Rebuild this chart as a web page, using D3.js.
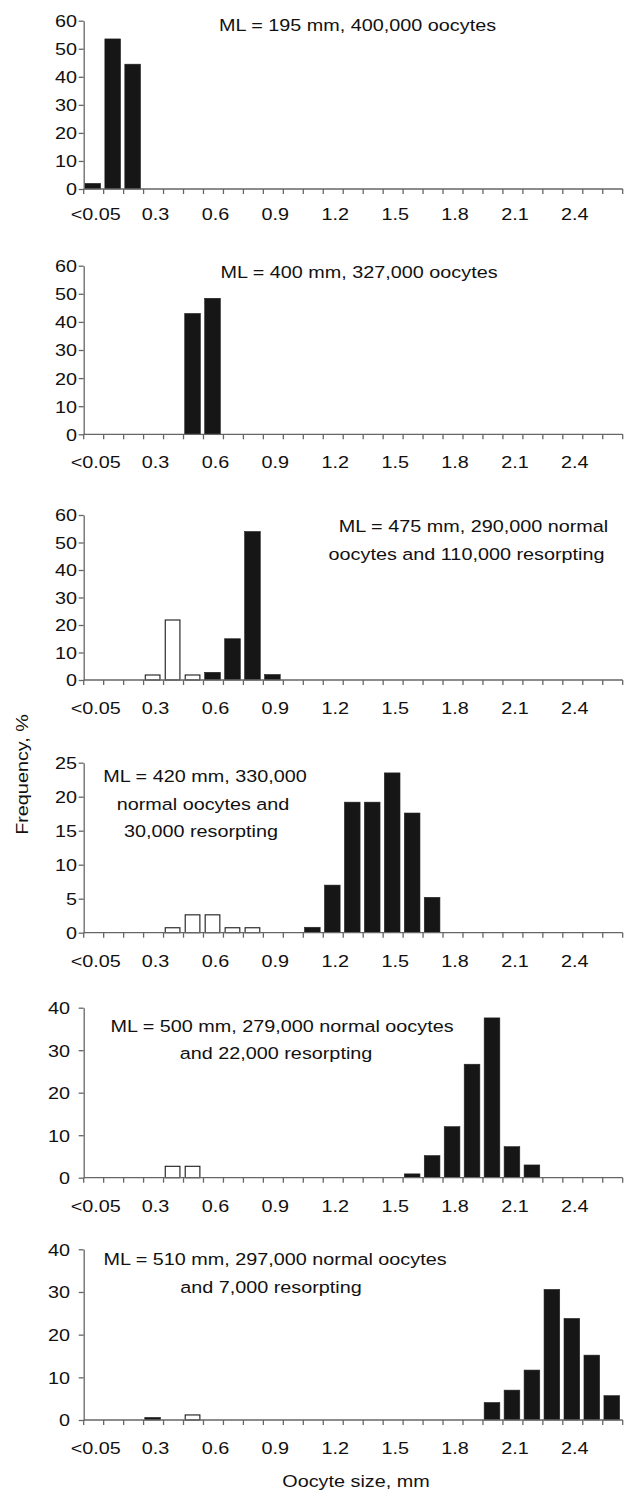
<!DOCTYPE html>
<html>
<head>
<meta charset="utf-8">
<script src="https://cdn.jsdelivr.net/npm/d3@7"></script>
<style>
  body { margin: 0; background: #fff; }
  svg text { font-family: "Liberation Sans", Arial, Helvetica, sans-serif; fill: #111; }
</style>
</head>
<body>
<div id="chart"></div>
<script>
// size classes (mm)
var categories = ["<0.05","0.1","0.2","0.3","0.4","0.5","0.6","0.7","0.8","0.9",
  "1.0","1.1","1.2","1.3","1.4","1.5","1.6","1.7","1.8","1.9",
  "2.0","2.1","2.2","2.3","2.4","2.5","2.6"];
var tickLabels = ["<0.05","0.3","0.6","0.9","1.2","1.5","1.8","2.1","2.4"];

// frequency, % : [size class, value]
var normal1 = [["<0.05",2],["0.1",53.5],["0.2",44.5]];
var resorb1 = [];
var normal2 = [["0.5",43],["0.6",48.4]];
var resorb2 = [];
var normal3 = [["0.6",2.8],["0.7",15],["0.8",54],["0.9",2]];
var resorb3 = [["0.3",2],["0.4",22],["0.5",2]];
var normal4 = [["1.1",0.8],["1.2",7],["1.3",19.2],["1.4",19.2],["1.5",23.5],["1.6",17.6],["1.7",5.2]];
var resorb4 = [["0.4",0.8],["0.5",2.7],["0.6",2.7],["0.7",0.8],["0.8",0.8]];
var normal5 = [["1.6",0.9],["1.7",5.2],["1.8",12],["1.9",26.7],["2.0",37.6],["2.1",7.3],["2.2",3]];
var resorb5 = [["0.4",2.8],["0.5",2.8]];
var normal6 = [["0.3",0.6],["2.0",4.1],["2.1",7],["2.2",11.7],["2.3",30.6],["2.4",23.8],["2.5",15.2],["2.6",5.7]];
var resorb6 = [["0.5",1.3]];

var yMaxes = [60, 60, 60, 25, 40, 40];
var yTicks = [
  [0,10,20,30,40,50,60],
  [0,10,20,30,40,50,60],
  [0,10,20,30,40,50,60],
  [0,5,10,15,20,25],
  [0,10,20,30,40],
  [0,10,20,30,40]
];
var titles = [
  ["ML = 195 mm, 400,000 oocytes"],
  ["ML = 400 mm, 327,000 oocytes"],
  ["ML = 475 mm, 290,000 normal", "oocytes and 110,000 resorpting"],
  ["ML = 420 mm, 330,000", "normal oocytes and", "30,000 resorpting"],
  ["ML = 500 mm, 279,000 normal oocytes", "and 22,000 resorpting"],
  ["ML = 510 mm, 297,000 normal oocytes", "and 7,000 resorpting"]
];

// layout of each panel: top / bottom of the plot, label gap, title placement
var layout = [
  {top: 20.7, bottom: 189, labX: 77, xl: 31, tx: [357.5], ty: [31]},
  {top: 265.7, bottom: 434.3, labX: 77, xl: 34, tx: [359], ty: [278]},
  {top: 515, bottom: 680, labX: 77, xl: 34, tx: [473.5, 466.5], ty: [532, 560]},
  {top: 762.7, bottom: 932.7, labX: 77, xl: 34, tx: [205, 203, 201], ty: [782, 809.5, 837]},
  {top: 1007.7, bottom: 1177.7, labX: 70, xl: 34, tx: [282, 276], ty: [1031.7, 1058.5]},
  {top: 1249.3, bottom: 1420, labX: 70, xl: 34, tx: [275, 271], ty: [1265, 1293]}
];

var normals = [normal1, normal2, normal3, normal4, normal5, normal6];
var resorbs = [resorb1, resorb2, resorb3, resorb4, resorb5, resorb6];

var W = 635, H = 1491;
var left = 83.7, right = 622.7;
var FS = 16.5, SX = 1.2;   // font looks wider than Arial

var svg = d3.select("#chart").append("svg")
  .attr("width", W).attr("height", H);

var x = d3.scaleBand().domain(categories).range([left, right]).paddingInner(0).paddingOuter(0);
var xb = d3.scaleLinear().domain([0, categories.length]).range([left, right]);
var axisColor = "#666";

function stretchText(g, str, tx, ty, anchor) {
  return g.append("text")
    .attr("transform", "translate(" + tx + "," + ty + ") scale(" + SX + ",1)")
    .attr("text-anchor", anchor)
    .style("font-size", FS + "px")
    .text(str);
}

layout.forEach(function(L, p) {
  var g = svg.append("g");
  var y = d3.scaleLinear().domain([0, yMaxes[p]]).range([L.bottom, L.top]);

  // bars
  var bw = x.bandwidth() * 0.785;
  g.selectAll("rect.normal").data(normals[p]).enter().append("rect")
    .attr("class", "normal")
    .attr("x", function(d){ return x(d[0]) + 1.2; })
    .attr("y", function(d){ return y(d[1]); })
    .attr("width", bw)
    .attr("height", function(d){ return y(0) - y(d[1]); })
    .attr("fill", "#161616")
    .attr("stroke", "#222").attr("stroke-width", 0.6);

  g.selectAll("rect.resorb").data(resorbs[p]).enter().append("rect")
    .attr("class", "resorb")
    .attr("x", function(d){ return x(d[0]) + 1.7; })
    .attr("y", function(d){ return y(d[1]) + 0.5; })
    .attr("width", bw - 1)
    .attr("height", function(d){ return y(0) - y(d[1]) - 0.5; })
    .attr("fill", "#fff")
    .attr("stroke", "#1a1a1a").attr("stroke-width", 1.1);

  // y axis
  var yAxis = d3.axisLeft(y).tickValues(yTicks[p]).tickSize(5).tickSizeOuter(0).tickFormat(d3.format("d"));
  var ya = g.append("g").attr("transform", "translate(" + left + ",0)").call(yAxis);
  ya.select(".domain").attr("stroke", axisColor).attr("stroke-width", 1.3);
  ya.selectAll(".tick line").attr("stroke", axisColor).attr("stroke-width", 1.3);
  ya.selectAll(".tick text")
    .attr("x", null).attr("dy", "0.36em")
    .attr("transform", "translate(" + (L.labX - left) + ",0) scale(" + SX + ",1)")
    .attr("text-anchor", "end")
    .style("font-size", FS + "px")
    .attr("fill", "#111");
  ya.attr("font-family", null).attr("font-size", null);

  // x axis line and boundary ticks
  g.append("line")
    .attr("x1", left).attr("x2", right)
    .attr("y1", y(0)).attr("y2", y(0))
    .attr("stroke", axisColor).attr("stroke-width", 1.3);
  g.selectAll("line.xt").data(d3.range(categories.length + 1)).enter().append("line")
    .attr("class", "xt")
    .attr("x1", function(i){ return xb(i); }).attr("x2", function(i){ return xb(i); })
    .attr("y1", y(0)).attr("y2", y(0) + 5)
    .attr("stroke", axisColor).attr("stroke-width", 1.3);

  tickLabels.forEach(function(t) {
    stretchText(g, t, x(t) + x.bandwidth() / 2 + 2, y(0) + L.xl, "middle");
  });

  titles[p].forEach(function(line, i) {
    stretchText(g, line, L.tx[i], L.ty[i], "middle");
  });
});

// axis titles
svg.append("text")
  .attr("transform", "translate(28.3,774.5) rotate(-90) scale(" + SX + ",1)")
  .attr("text-anchor", "middle")
  .style("font-size", FS + "px")
  .text("Frequency, %");

svg.append("text")
  .attr("transform", "translate(356,1487) scale(" + SX + ",1)")
  .attr("text-anchor", "middle")
  .style("font-size", FS + "px")
  .text("Oocyte size, mm");
</script>
</body>
</html>
